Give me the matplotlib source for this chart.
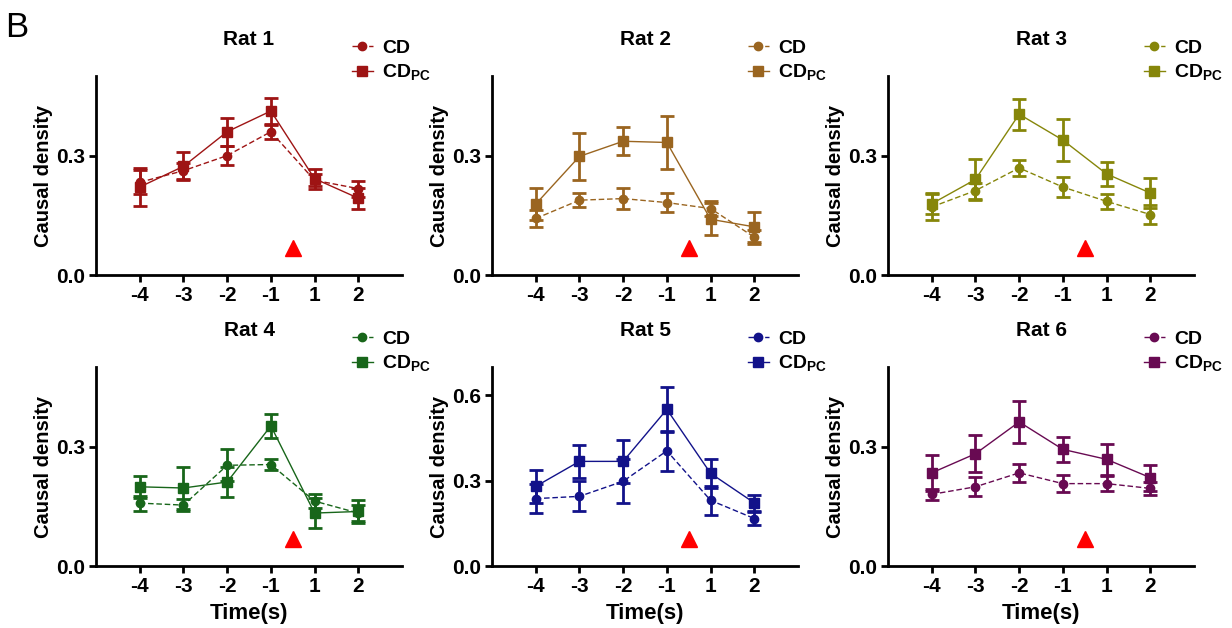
import numpy as np
import matplotlib
matplotlib.use("Agg")
import matplotlib.pyplot as plt
import matplotlib.transforms as mtransforms

plt.rcParams['font.family'] = ['Liberation Sans', 'DejaVu Sans']
plt.rcParams['font.weight'] = 'bold'
plt.rcParams['axes.labelweight'] = 'bold'
plt.rcParams['axes.titleweight'] = 'bold'
plt.rcParams['mathtext.fontset'] = 'custom'
plt.rcParams['mathtext.bf'] = 'Liberation Sans:bold'
plt.rcParams['mathtext.rm'] = 'Liberation Sans:bold'

# Data
time_labels = ['-4', '-3', '-2', '-1', '1', '2']
rats = ['Rat 1', 'Rat 2', 'Rat 3', 'Rat 4', 'Rat 5', 'Rat 6']
colors = ['#9e1414', '#9a6520', '#86860a', '#18661a', '#12128a', '#680a52']

cd_mean = [
    [0.233, 0.262, 0.300, 0.360, 0.238, 0.217],
    [0.142, 0.188, 0.192, 0.182, 0.167, 0.095],
    [0.171, 0.212, 0.269, 0.221, 0.185, 0.152],
    [0.158, 0.153, 0.253, 0.255, 0.163, 0.133],
    [0.237, 0.245, 0.298, 0.405, 0.231, 0.167],
    [0.180, 0.199, 0.234, 0.207, 0.207, 0.195],
]
cd_err = [
    [0.030, 0.020, 0.024, 0.018, 0.015, 0.020],
    [0.021, 0.018, 0.027, 0.023, 0.019, 0.017],
    [0.034, 0.020, 0.021, 0.024, 0.019, 0.023],
    [0.019, 0.015, 0.040, 0.013, 0.018, 0.021],
    [0.050, 0.053, 0.077, 0.071, 0.050, 0.023],
    [0.013, 0.024, 0.023, 0.021, 0.019, 0.017],
]
pc_mean = [
    [0.221, 0.273, 0.360, 0.412, 0.242, 0.193],
    [0.178, 0.298, 0.336, 0.333, 0.140, 0.121],
    [0.179, 0.240, 0.404, 0.339, 0.254, 0.206],
    [0.199, 0.196, 0.211, 0.352, 0.133, 0.137],
    [0.280, 0.368, 0.368, 0.551, 0.326, 0.222],
    [0.234, 0.282, 0.362, 0.293, 0.268, 0.222],
]
pc_err = [
    [0.047, 0.035, 0.035, 0.033, 0.025, 0.026],
    [0.040, 0.060, 0.035, 0.066, 0.040, 0.038],
    [0.025, 0.052, 0.039, 0.053, 0.031, 0.038],
    [0.027, 0.053, 0.037, 0.030, 0.037, 0.030],
    [0.057, 0.057, 0.076, 0.080, 0.052, 0.027],
    [0.045, 0.047, 0.052, 0.031, 0.039, 0.033],
]
y_max = [0.5, 0.5, 0.5, 0.5, 0.7, 0.5]
y_ticks = [[0.0, 0.3], [0.0, 0.3], [0.0, 0.3], [0.0, 0.3], [0.0, 0.3, 0.6], [0.0, 0.3]]
onset_pos = 3.5  # stimulus marker between -1 and 1

fig = plt.figure(figsize=(12.32, 6.28), dpi=100)

lefts = [96, 492, 888]
bottoms = [275, 566]
W, H = 1232, 628
x = np.arange(len(time_labels))

for i, rat in enumerate(rats):
    r, c = divmod(i, 3)
    ax = fig.add_axes([lefts[c] / W, 1 - bottoms[r] / H, 306 / W, 199 / H])
    col = colors[i]

    h1 = ax.errorbar(x, cd_mean[i], yerr=cd_err[i], color=col, marker='o', ms=6,
                     lw=1.0, ls=(0, (4, 2)), elinewidth=2.0, capsize=5, capthick=2.0)
    h2 = ax.errorbar(x, pc_mean[i], yerr=pc_err[i], color=col, marker='s', ms=7.5,
                     lw=1.0, ls='-', elinewidth=2.0, capsize=5, capthick=2.0)

    trans = mtransforms.blended_transform_factory(ax.transData, ax.transAxes)
    ax.plot(onset_pos, 0.135, marker='^', color='#ff0000', ms=12, transform=trans,
            clip_on=False)

    ax.set_xlim(-1, 6)
    ax.set_ylim(0, y_max[i])
    ax.set_xticks(x)
    ax.set_xticklabels(time_labels)
    ax.set_yticks(y_ticks[i])
    ax.set_yticklabels(['%.1f' % t for t in y_ticks[i]])
    ax.tick_params(labelsize=15, width=2, length=5, direction='out', pad=3)
    for s in ['top', 'right']:
        ax.spines[s].set_visible(False)
    for s in ['left', 'bottom']:
        ax.spines[s].set_linewidth(2)

    ax.set_title(rat, fontsize=15, pad=22)
    ax.set_ylabel('Causal density', fontsize=14.5, labelpad=2)
    if r == 1:
        ax.set_xlabel('Time(s)', fontsize=16, labelpad=5)

    ax.legend(handles=[h1.lines[0], h2.lines[0]], labels=['CD', r'CD$_{\mathbf{PC}}$'],
              loc='upper left', bbox_to_anchor=(0.81, 1.225),
              frameon=False, fontsize=14, handlelength=1.1, handletextpad=0.45,
              labelspacing=0.3, borderaxespad=0)

fig.text(0.004, 0.982, 'B', fontsize=25, fontweight='normal', va='top', ha='left')

fig.savefig('out.png', dpi=100)
